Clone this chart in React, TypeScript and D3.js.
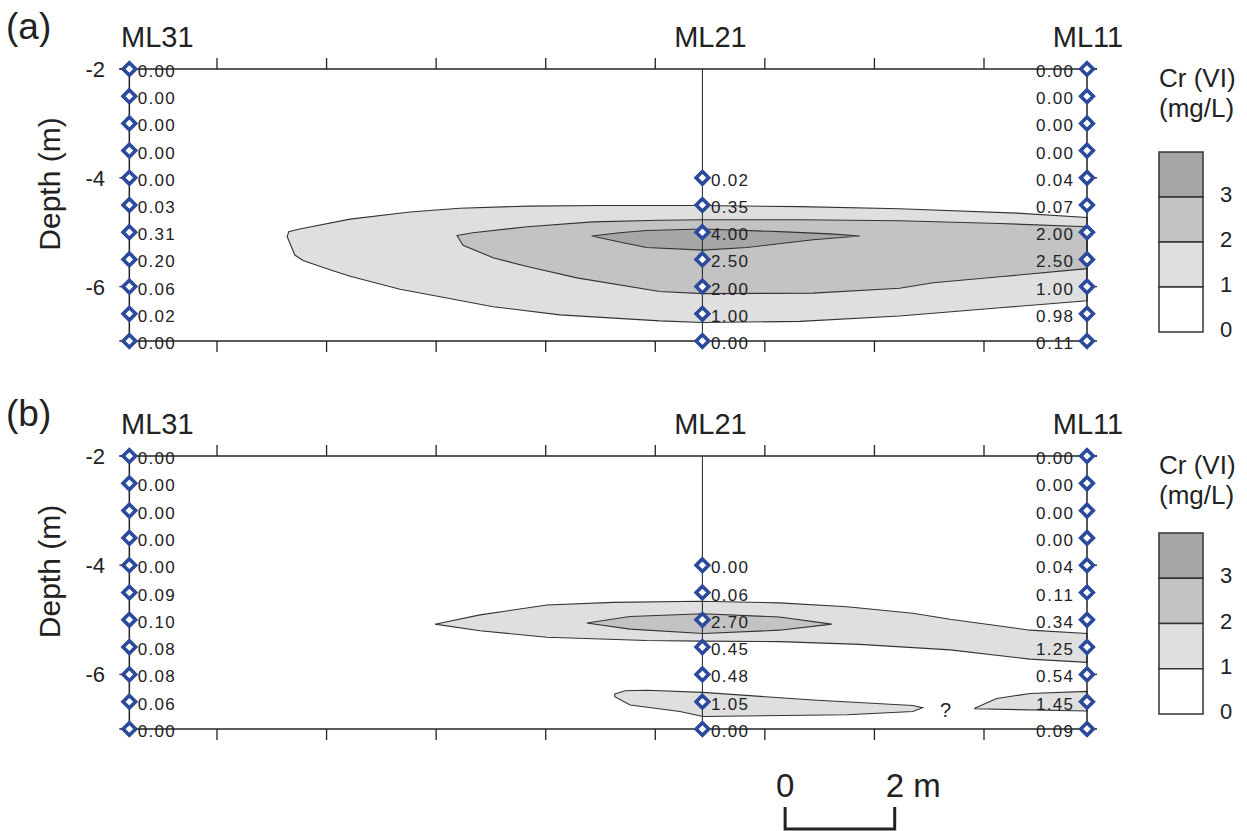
import React from 'react';
import * as d3 from 'd3';

// ---------- data ----------
const depthLevels = [-2, -2.5, -3, -3.5, -4, -4.5, -5, -5.5, -6, -6.5, -7];
const ml21Depths = [-4, -4.5, -5, -5.5, -6, -6.5, -7];
const wellNames = ['ML31', 'ML21', 'ML11'];
const wellPos = [0.4, 10.86, 17.88]; // metres along section
const xTicks = [2, 4, 6, 8, 10, 12, 14, 16];
const depthTicks = [-2, -4, -6];
const legendBreaks = [3, 2, 1, 0];
const legendFills = ['#a6a6a6', '#c3c3c3', '#dfdfdf', '#ffffff'];
const levelFill: Record<number, string> = { 1: '#dfdfdf', 2: '#c3c3c3', 3: '#a6a6a6' };

// panel (a)
const aML31 = [0.0, 0.0, 0.0, 0.0, 0.0, 0.03, 0.31, 0.2, 0.06, 0.02, 0.0];
const aML21 = [0.02, 0.35, 4.0, 2.5, 2.0, 1.0, 0.0];
const aML11 = [0.0, 0.0, 0.0, 0.0, 0.04, 0.07, 2.0, 2.5, 1.0, 0.98, 0.11];
// panel (b)
const bML31 = [0.0, 0.0, 0.0, 0.0, 0.0, 0.09, 0.1, 0.08, 0.08, 0.06, 0.0];
const bML21 = [0.0, 0.06, 2.7, 0.45, 0.48, 1.05, 0.0];
const bML11 = [0.0, 0.0, 0.0, 0.0, 0.04, 0.11, 0.34, 1.25, 0.54, 1.45, 0.09];

// contour outlines [distance m, depth m]
const a1: [number, number][] = [
  [3.28, -5.08], [3.31, -4.99], [3.51, -4.94], [4.43, -4.76], [5.52, -4.63], [6.43, -4.56],
  [7.66, -4.52], [8.99, -4.51], [10.81, -4.51], [12.64, -4.53], [14.46, -4.57], [16.6, -4.65],
  [17.88, -4.73], [17.88, -6.26], [16.29, -6.39], [14.46, -6.54], [12.64, -6.64], [10.87, -6.66],
  [10.08, -6.63], [8.26, -6.52], [7.04, -6.37], [5.83, -6.14], [5.34, -6.05], [4.43, -5.81],
  [4.06, -5.69], [3.57, -5.52], [3.42, -5.42],
];
const a2: [number, number][] = [
  [6.38, -5.06], [6.67, -5.01], [7.66, -4.9], [8.86, -4.81], [10.08, -4.78], [10.87, -4.77],
  [12.64, -4.77], [14.46, -4.79], [16.29, -4.84], [17.88, -4.9], [17.88, -5.67], [16.29, -5.82],
  [15.07, -5.93], [14.46, -6.03], [12.88, -6.12], [10.87, -6.13], [10.08, -6.09], [8.57, -5.84],
  [7.66, -5.63], [7.04, -5.47], [6.49, -5.24],
];
const a3: [number, number][] = [
  [8.84, -5.07], [9.35, -5.01], [9.84, -4.97], [10.87, -4.94], [12.27, -4.99], [13.19, -5.03],
  [13.73, -5.07], [12.88, -5.14], [11.67, -5.28], [10.87, -5.33], [9.84, -5.28], [9.35, -5.18],
];
const b1: [number, number][] = [
  [5.98, -5.08], [6.8, -4.91], [8.02, -4.73], [9.23, -4.68], [10.81, -4.66], [12.27, -4.69],
  [13.5, -4.76], [14.7, -4.88], [15.38, -4.99], [16.84, -5.19], [17.88, -5.25], [17.88, -5.78],
  [16.84, -5.72], [15.38, -5.55], [13.73, -5.45], [12.27, -5.4], [10.81, -5.39], [9.84, -5.38],
  [8.02, -5.32], [6.8, -5.2],
];
const b2: [number, number][] = [
  [8.75, -5.06], [9.54, -4.94], [10.87, -4.89], [12.27, -4.95], [13.22, -5.08], [12.27, -5.19],
  [10.87, -5.25], [9.54, -5.17],
];
const b3: [number, number][] = [
  [9.26, -6.36], [9.45, -6.3], [9.85, -6.29], [10.87, -6.33], [12.88, -6.47], [14.7, -6.57],
  [14.88, -6.61], [14.7, -6.68], [13.5, -6.74], [10.87, -6.77], [10.45, -6.68], [9.54, -6.56],
  [9.26, -6.41],
];
const b4: [number, number][] = [
  [15.83, -6.62], [16.23, -6.44], [16.84, -6.35], [17.88, -6.31], [17.88, -6.67], [15.83, -6.63],
];

const panels = [
  {
    tag: '(a)', top: 69, bottom: 341,
    values: [aML31, aML21, aML11],
    contours: [{ level: 1, pts: a1 }, { level: 2, pts: a2 }, { level: 3, pts: a3 }],
    legendTop: 152, legendBottom: 332,
  },
  {
    tag: '(b)', top: 456, bottom: 729,
    values: [bML31, bML21, bML11],
    contours: [{ level: 1, pts: b1 }, { level: 1, pts: b3 }, { level: 1, pts: b4 }, { level: 2, pts: b2 }],
    legendTop: 533, legendBottom: 714,
  },
];

const X = d3.scaleLinear().domain([2, 16]).range([217, 984]);
const INK = '#222';
const DIAMOND = '#2c4a9c';
const FONT = "'Liberation Sans', Arial, sans-serif";

function Panel({ p }: { p: typeof panels[number] }) {
  const Y = d3.scaleLinear().domain([-2, -7]).range([p.top, p.bottom]);
  const line = d3.line<[number, number]>().x(d => X(d[0])).y(d => Y(d[1])).curve(d3.curveLinearClosed);
  const xL = X(wellPos[0]);
  const xM = X(wellPos[1]);
  const xR = X(wellPos[2]);
  const leg = d3.scaleLinear().domain([4, 0]).range([p.legendTop, p.legendBottom]);
  const wellDepths = [depthLevels, ml21Depths, depthLevels];
  const r = 6.3;
  const diamond = (cx: number, cy: number) =>
    `M${cx},${cy - r}L${cx + r},${cy}L${cx},${cy + r}L${cx - r},${cy}Z`;

  return (
    <g>
      <text x={6} y={p.top - 30} fontSize={37} fill={INK} fontFamily={FONT} fontWeight={300}>{p.tag}</text>
      {wellNames.map((n, i) => (
        <text key={n} x={X(wellPos[i]) + (i === 0 ? 28 : i === 1 ? 8 : 1)} y={p.top - 22}
          fontSize={29} fill={INK} textAnchor="middle" fontFamily={FONT}>{n}</text>
      ))}
      <text transform={`translate(60,${(p.top + p.bottom) / 2 - 21}) rotate(-90)`} fontSize={30}
        fill={INK} textAnchor="middle" fontFamily={FONT}>Depth (m)</text>

      {/* contours */}
      {p.contours.map((c, i) => (
        <path key={i} d={line(c.pts) || ''} fill={levelFill[c.level]} stroke="#333" strokeWidth={1.1} />
      ))}

      {/* frame */}
      <line x1={xL - 10} x2={xR + 10} y1={Y(-2)} y2={Y(-2)} stroke={INK} strokeWidth={1.5} />
      <line x1={xL - 10} x2={xR + 10} y1={Y(-7)} y2={Y(-7)} stroke={INK} strokeWidth={1.5} />
      <line x1={xL} x2={xL} y1={Y(-2)} y2={Y(-7)} stroke={INK} strokeWidth={1.5} />
      <line x1={xR} x2={xR} y1={Y(-2)} y2={Y(-7)} stroke={INK} strokeWidth={1.5} />
      <line x1={xM} x2={xM} y1={Y(-2)} y2={Y(-7)} stroke={INK} strokeWidth={1} />
      {xTicks.map(t => (
        <g key={t}>
          <line x1={X(t)} x2={X(t)} y1={Y(-2)} y2={Y(-2) - 11} stroke={INK} strokeWidth={1.3} />
          <line x1={X(t)} x2={X(t)} y1={Y(-7)} y2={Y(-7) + 11} stroke={INK} strokeWidth={1.3} />
        </g>
      ))}
      {depthTicks.map(t => (
        <g key={t}>
          <line x1={xL - 10} x2={xL} y1={Y(t)} y2={Y(t)} stroke={INK} strokeWidth={1.3} />
          <line x1={xR} x2={xR + 10} y1={Y(t)} y2={Y(t)} stroke={INK} strokeWidth={1.3} />
          <text x={105} y={Y(t) + 8} fontSize={22} textAnchor="end" fill={INK} fontFamily={FONT}>{t}</text>
        </g>
      ))}

      {/* sample points and values */}
      {p.values.map((vals, wi) =>
        vals.map((v, k) => {
          const cx = X(wellPos[wi]);
          const cy = Y(wellDepths[wi][k]);
          const tx = wi === 2 ? cx - 51 : cx + 8.5;
          return (
            <g key={`${wi}-${k}`}>
              <path d={diamond(cx, cy)} fill="#fff" stroke={DIAMOND} strokeWidth={3.6} />
              <text x={tx} y={cy + 8} fontSize={17} fill={INK} fontFamily={FONT}
                textLength={37} lengthAdjust="spacing">{v.toFixed(2)}</text>
            </g>
          );
        })
      )}

      {/* legend */}
      <text x={1159} y={p.top + 18} fontSize={26} fill={INK} fontFamily={FONT}>Cr (VI)</text>
      <text x={1159} y={p.top + 48} fontSize={26} fill={INK} fontFamily={FONT}>(mg/L)</text>
      {legendBreaks.map((b, i) => (
        <rect key={b} x={1159} y={leg(b + 1)} width={44} height={leg(b) - leg(b + 1)}
          fill={legendFills[i]} stroke="#333" strokeWidth={1.5} />
      ))}
      {legendBreaks.map(b => (
        <text key={b} x={1220} y={leg(b) + 5} fontSize={22} fill={INK} fontFamily={FONT}>{b}</text>
      ))}
    </g>
  );
}

export default function App() {
  const Yb = d3.scaleLinear().domain([-2, -7]).range([456, 729]);
  return (
    <svg width={1247} height={831} style={{ position: 'absolute', left: 0, top: 0, background: '#fff' }}>
      <rect width={1247} height={831} fill="#fff" />
      {panels.map(p => <Panel key={p.tag} p={p} />)}
      <text x={X(15.3)} y={Yb(-6.65) + 7} fontSize={20} fill={INK} fontFamily={FONT} textAnchor="middle">?</text>
      {/* scale bar: 2 m */}
      <text x={X(12.37)} y={797} fontSize={33} fill={INK} fontFamily={FONT} textAnchor="middle">0</text>
      <text x={X(14.37) - 9} y={797} fontSize={33} fill={INK} fontFamily={FONT}>2 m</text>
      <path d={`M${X(12.37)},807V829H${X(14.37)}V807`} fill="none" stroke={INK} strokeWidth={3} />
    </svg>
  );
}
